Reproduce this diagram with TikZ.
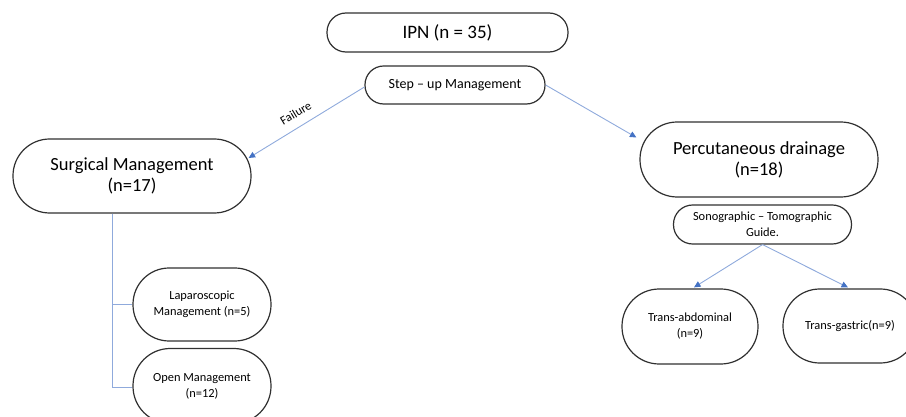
\documentclass[tikz,border=0pt]{standalone}
\usepackage{fontspec}
\setmainfont{Carlito}
\usetikzlibrary{arrows.meta,calc}
\definecolor{linkblue}{HTML}{8FAADC}
\definecolor{tipblue}{HTML}{4472C4}
\definecolor{edgegray}{HTML}{303030}
\tikzset{
  box/.style={draw=edgegray, line width=1.2pt, align=center, inner sep=0pt, text=black},
  bigfont/.style={font=\fontsize{18.5}{21}\selectfont},
  midfont/.style={font=\fontsize{14}{17}\selectfont},
  smallfont/.style={font=\fontsize{12.4}{16}\selectfont},
  conn/.style={draw=linkblue, line width=0.9pt},
  arr/.style={conn, -{Triangle[length=6.5pt,width=6pt,color=tipblue]}},
}
\begin{document}
\begin{tikzpicture}[x=1pt,y=-1pt]
\useasboundingbox (0,0) rectangle (906,417);
% nodes
\node[box, minimum width=241pt, minimum height=39pt, rounded corners=19pt,
      font=\fontsize{19}{23}\selectfont] (ipn) at (447.5,32.5) {IPN (n = 35)};
\node[box, midfont, minimum width=180pt, minimum height=38pt, rounded corners=18.7pt] (step) at (455,85) {Step -- up Management};
\node[box, bigfont, minimum width=238pt, minimum height=74pt, rounded corners=36.7pt] (surg) at (132,176) {Surgical Management\\(n=17)};
\node[box, bigfont, minimum width=238pt, minimum height=75pt, rounded corners=37.2pt] (perc) at (759,159.5) {Percutaneous drainage\\(n=18)};
\node[box, smallfont, minimum width=178pt, minimum height=39pt, rounded corners=19.2pt] (sono) at (762.5,224.5) {Sonographic -- Tomographic\\Guide.};
\node[box, smallfont, minimum width=138pt, minimum height=73pt, rounded corners=36.2pt] (lap) at (202,304.5) {Laparoscopic\\Management (n=5)};
\node[box, smallfont, minimum width=138pt, minimum height=75pt, rounded corners=37.2pt] (open) at (202,386) {Open Management\\(n=12)};
\node[box, smallfont, minimum width=136pt, minimum height=75pt, rounded corners=37.2pt] (tabd) at (690,326.5) {Trans-abdominal\\(n=9)};
\node[box, smallfont, minimum width=134pt, minimum height=74pt, rounded corners=36.7pt] (tgas) at (850,326) {Trans-gastric(n=9)};
% connector end points
\coordinate (surgIn) at ($(surg.east)+(-3,-18)$);
\coordinate (percIn) at ($(perc.west)+(-3,-22)$);
% connectors
\draw[arr] ($(step.west)+(0,2)$) -- (surgIn);
\node[smallfont, rotate=31, inner sep=0pt] (fail) at (295.7,113) {Failure};
\draw[arr] (step.east) -- (percIn);
\draw[arr] (sono.south) -- ($(tabd.north)+(4,-1)$);
\draw[arr] (sono.south) -- ($(tgas.north)+(-2,-1)$);
\draw[conn] ($(surg.south)+(-20,0)$) |- (lap.west);
\draw[conn] ($(surg.south)+(-20,0)$) |- ($(open.west)+(0,1)$);
\end{tikzpicture}
\end{document}
